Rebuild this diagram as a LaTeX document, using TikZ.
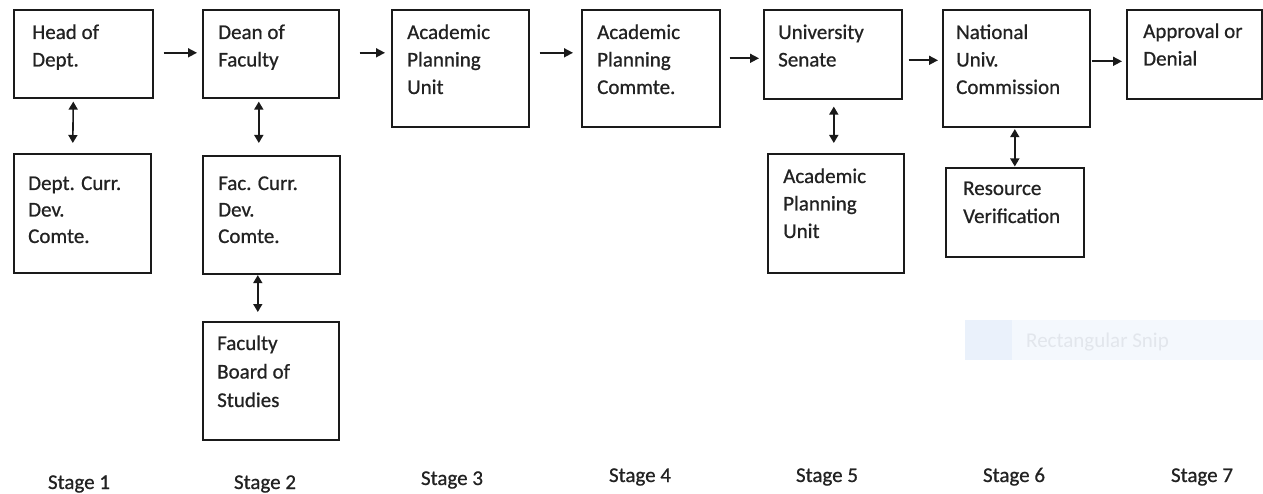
\documentclass[tikz,border=0pt]{standalone}
\usepackage{fontspec}
\setmainfont{Carlito}
\newfontfamily\boxfont[FakeBold=0.7]{Carlito}
\usetikzlibrary{arrows.meta,calc}
\definecolor{ink}{HTML}{1A1A1A}
\definecolor{txt}{HTML}{222222}
\definecolor{snipbg}{HTML}{F4F8FD}
\definecolor{snipsq}{HTML}{EAF1FB}
\definecolor{sniptx}{HTML}{E2E6EC}
\newcommand\tl[1]{\vtop{\halign{##\hfil\cr#1\crcr}}}
\tikzset{
  box/.style={draw=ink, line width=1.6pt, fill=white, inner sep=0pt},
  lbl/.style={text=txt, inner sep=0pt, anchor=base west, font=\boxfont\fontsize{21}{27.5}\selectfont},
  stagelbl/.style={text=txt, inner sep=0pt, anchor=base, font=\boxfont\fontsize{21}{25}\selectfont},
  arr/.style={draw=ink, line width=1.6pt, -{Triangle[length=9pt,width=9pt]}},
  darr/.style={draw=ink, line width=1.6pt, {Triangle[length=8pt,width=9pt]}-{Triangle[length=8pt,width=9pt]}}
}
\begin{document}
\begin{tikzpicture}[x=1pt,y=-1pt]
\useasboundingbox (0,0) rectangle (1263,494);
% faint screenshot artifact
\fill[snipbg] (965,320) rectangle (1263,360);
\fill[snipsq] (965,320) rectangle (1012,360);
\node[text=sniptx, inner sep=0pt, anchor=west, font=\fontsize{21}{25}\selectfont] (snip) at (1026,342) {Rectangular Snip};
% boxes
\newcommand\bx[5]{\node[box, anchor=north west, minimum width={#4-#2}, minimum height={#5-#3}] (#1) at (#2,#3) {};}
\bx{hod}{13}{9}{152}{97}
\bx{dean}{202}{9}{338}{97}
\bx{apu}{391}{9}{528}{126}
\bx{apc}{581}{9}{719}{126}
\bx{sen}{763}{9}{901}{98}
\bx{nuc}{942}{9}{1089}{126}
\bx{appr}{1126}{9}{1261}{98}
\bx{dcdc}{13}{153}{150}{272}
\bx{fcdc}{202}{155}{339}{273}
\bx{fbs}{202}{321}{338}{439}
\bx{apufive}{767}{153}{903}{272}
\bx{rv}{945}{167}{1083}{256}
% texts
\node[lbl] (hodT) at (32,39) {\tl{Head of\cr Dept.}};
\node[lbl] (deanT) at (218,39) {\tl{Dean of\cr Faculty}};
\node[lbl] (apuT) at (407,39) {\tl{Academic\cr Planning\cr Unit}};
\node[lbl] (apcT) at (597,39) {\tl{Academic\cr Planning\cr Commte.}};
\node[lbl] (senT) at (778,39) {\tl{University\cr Senate}};
\node[lbl] (nucT) at (956,39) {\tl{National\cr Univ.\cr Commission}};
\node[lbl] (apprT) at (1143,38) {\tl{Approval or\cr Denial}};
\node[lbl, font=\boxfont\fontsize{21}{26.5}\selectfont] (dcdcT) at (28,190) {\tl{Dept. Curr.\cr Dev.\cr Comte.}};
\node[lbl, font=\boxfont\fontsize{21}{26.5}\selectfont] (fcdcT) at (218,190) {\tl{Fac. Curr.\cr Dev.\cr Comte.}};
\node[lbl, font=\boxfont\fontsize{21}{28.5}\selectfont] (fbsT) at (217,350) {\tl{Faculty\cr Board of\cr Studies}};
\node[lbl] (apufiveT) at (783,183) {\tl{Academic\cr Planning\cr Unit}};
\node[lbl, font=\boxfont\fontsize{21}{28}\selectfont] (rvT) at (963,195) {\tl{Resource\cr Verification}};
% stage labels
\node[stagelbl] (s1) at (79,489) {Stage 1};
\node[stagelbl] (s2) at (265,489) {Stage 2};
\node[stagelbl] (s3) at (452,485) {Stage 3};
\node[stagelbl] (s4) at (640,482) {Stage 4};
\node[stagelbl] (s5) at (827,482) {Stage 5};
\node[stagelbl] (s6) at (1014,482) {Stage 6};
\node[stagelbl] (s7) at (1202,482) {Stage 7};
% horizontal arrows
\draw[arr] ($(hod.east)+(10,-1)$) -- ($(dean.west)+(-5,-1)$);
\draw[arr] ($(dean.east)+(20,-1)$) -- ($(dean.east -| apu.west)+(-6,-1)$);
\draw[arr] ($(apu.east |- dean.east)+(10,-1)$) -- ($(apc.west |- dean.east)+(-8,-1)$);
\draw[arr] ($(apc.east |- sen.west)+(9,4)$) -- ($(sen.west)+(-4,4)$);
\draw[arr] ($(sen.east)+(6,6)$) -- ($(sen.east -| nuc.west)+(-4,6)$);
\draw[arr] ($(appr.west -| nuc.east)+(1,7)$) -- ($(appr.west)+(-4,7)$);
% vertical double arrows
\draw[darr] ($(hod.south)+(-10,3)$) -- ($(dcdc.north)+(-9.5,-10)$);
\draw[darr] ($(dean.south)+(-12,3)$) -- ($(fcdc.north)+(-12.5,-12)$);
\draw[darr] ($(fcdc.south)+(-13.5,0.5)$) -- ($(fbs.north)+(-13,-9)$);
\draw[darr] ($(sen.south)+(1,7)$) -- ($(apufive.north)+(-2,-10)$);
\draw[darr] ($(nuc.south)+(-1.5,1.5)$) -- ($(rv.north)+(0,-0.5)$);
\end{tikzpicture}
\end{document}
